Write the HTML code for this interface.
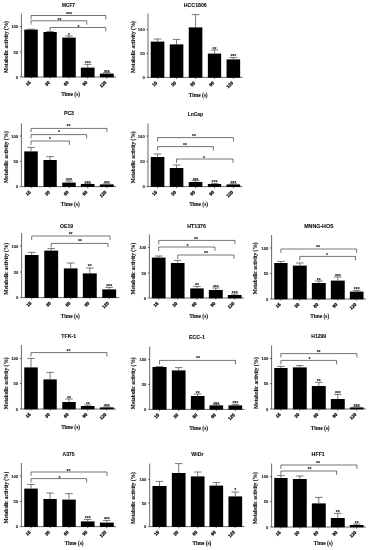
<!DOCTYPE html>
<html lang="en">
<head>
<meta charset="utf-8">
<title>Metabolic activity</title>
<style>
html,body{margin:0;padding:0;background:#fff;}
body{width:370px;height:550px;overflow:hidden;}
svg{display:block;filter:blur(0.35px);}
.ln{fill:none;stroke:#2a2a2a;stroke-width:0.7;}
.eb{fill:none;stroke:#333;stroke-width:0.65;}
.br{fill:none;stroke:#3a3a3a;stroke-width:0.7;}
.bar{fill:#000;}
text{fill:#111;}
.tk{font-family:"Liberation Sans",Arial,sans-serif;font-weight:bold;font-size:4.5px;stroke:#000;stroke-width:0.22;fill:#000;}
.yt{font-family:"Liberation Sans",Arial,sans-serif;font-weight:bold;font-size:4.1px;stroke:#111;stroke-width:0.06;}
.st{font-family:"Liberation Sans",Arial,sans-serif;font-weight:bold;font-size:5px;fill:#1a1a1a;stroke:#1a1a1a;stroke-width:0.08;}
.ti{font-family:"Liberation Sans",Arial,sans-serif;font-weight:bold;font-size:4.8px;stroke:#111;stroke-width:0.1;}
.lb{font-family:"Liberation Serif","Times New Roman",serif;font-weight:bold;font-size:5.4px;stroke:#111;stroke-width:0.1;}
</style>
</head>
<body>
<svg width="370" height="550" viewBox="0 0 370 550">
<rect width="370" height="550" fill="#fff"/>
<g>
<path class="ln" d="M21.4 13.6V77H116"/>
<path class="ln" d="M19.8 26.6H21.4M19.8 51.8H21.4M19.8 77H21.4M31 77V78.6M50.1 77V78.6M69 77V78.6M87.7 77V78.6M106.8 77V78.6"/>
<text class="yt" x="18.1" y="28.4" text-anchor="end">100</text>
<text class="yt" x="18.1" y="53.6" text-anchor="end">50</text>
<text class="yt" x="18.1" y="78.8" text-anchor="end">0</text>
<rect class="bar" x="24.25" y="29.6" width="13.5" height="47.7"/>
<text class="tk" transform="translate(31.1 82.8) rotate(-45)" text-anchor="end">15</text>
<rect class="bar" x="43.45" y="32" width="13.3" height="45.3"/>
<text class="tk" transform="translate(50.2 82.8) rotate(-45)" text-anchor="end">30</text>
<rect class="bar" x="62.25" y="37.6" width="13.5" height="39.7"/>
<text class="st" x="69" y="37.3" text-anchor="middle">*</text>
<text class="tk" transform="translate(69.1 82.8) rotate(-45)" text-anchor="end">60</text>
<rect class="bar" x="80.85" y="67.6" width="13.7" height="9.7"/>
<text class="st" x="87.7" y="65.3" text-anchor="middle">***</text>
<text class="tk" transform="translate(87.8 82.8) rotate(-45)" text-anchor="end">90</text>
<rect class="bar" x="99.85" y="73.6" width="13.9" height="3.7"/>
<text class="st" x="106.8" y="73.8" text-anchor="middle">***</text>
<text class="tk" transform="translate(106.9 82.8) rotate(-45)" text-anchor="end">120</text>
<path class="eb" d="M31 29.6V29.2M27.2 29.2H34.8M50.1 32V31.6M46.3 31.6H53.9M69 37.6V36M65.2 36H72.8M87.7 67.6V64.4M83.9 64.4H91.5M106.8 73.6V72.6M103 72.6H110.6"/>
<text class="st" x="69" y="16.3" text-anchor="middle">***</text>
<text class="st" x="59.4" y="21.8" text-anchor="middle">**</text>
<text class="st" x="78.4" y="28.6" text-anchor="middle">*</text>
<path class="br" d="M31 19.4V15.5H105.8V19.4M31 24.7V20.8H86.8V24.7M50.1 31.4V27.5H105.8V31.4"/>
<text class="ti" x="68.5" y="7.02" style="font-size:4.81px" text-anchor="middle">MCF7</text>
<text class="lb" x="70.6" y="96.1" text-anchor="middle">Time (s)</text>
<text class="lb" transform="translate(7.9 47) rotate(-90)" text-anchor="middle">Metabolic activity (%)</text>
</g>
<g>
<path class="ln" d="M148 13.6V77.4H242.4"/>
<path class="ln" d="M146.4 29.6H148M146.4 53.4H148M146.4 77.4H148M157.55 77.4V79M176.55 77.4V79M195.55 77.4V79M214.5 77.4V79M233.35 77.4V79"/>
<text class="yt" x="144.7" y="31.4" text-anchor="end">100</text>
<text class="yt" x="144.7" y="55.2" text-anchor="end">50</text>
<text class="yt" x="144.7" y="79.2" text-anchor="end">0</text>
<rect class="bar" x="150.75" y="41.6" width="13.6" height="36.1"/>
<text class="tk" transform="translate(157.65 83.2) rotate(-45)" text-anchor="end">15</text>
<rect class="bar" x="169.75" y="44.4" width="13.6" height="33.3"/>
<text class="tk" transform="translate(176.65 83.2) rotate(-45)" text-anchor="end">30</text>
<rect class="bar" x="188.75" y="27.4" width="13.6" height="50.3"/>
<text class="tk" transform="translate(195.65 83.2) rotate(-45)" text-anchor="end">60</text>
<rect class="bar" x="207.85" y="53.6" width="13.3" height="24.1"/>
<text class="st" x="214.5" y="51.3" text-anchor="middle">**</text>
<text class="tk" transform="translate(214.6 83.2) rotate(-45)" text-anchor="end">90</text>
<rect class="bar" x="226.55" y="59.4" width="13.6" height="18.3"/>
<text class="st" x="233.35" y="58.3" text-anchor="middle">***</text>
<text class="tk" transform="translate(233.45 83.2) rotate(-45)" text-anchor="end">120</text>
<path class="eb" d="M157.55 41.6V39M153.75 39H161.35M176.55 44.4V39.4M172.75 39.4H180.35M195.55 27.4V14.6M191.75 14.6H199.35M214.5 53.6V50M210.7 50H218.3M233.35 59.4V57.6M229.55 57.6H237.15"/>
<text class="ti" x="195.3" y="7.17" style="font-size:5.22px" text-anchor="middle">HCC1806</text>
<text class="lb" x="198.2" y="96.7" text-anchor="middle">Time (s)</text>
<text class="lb" transform="translate(134.7 47) rotate(-90)" text-anchor="middle">Metabolic activity (%)</text>
</g>
<g>
<path class="ln" d="M21.4 123.4V186.6H116"/>
<path class="ln" d="M19.8 136H21.4M19.8 161.4H21.4M19.8 186.6H21.4M31 186.6V188.2M50.1 186.6V188.2M69 186.6V188.2M87.7 186.6V188.2M106.8 186.6V188.2"/>
<text class="yt" x="18.1" y="137.8" text-anchor="end">100</text>
<text class="yt" x="18.1" y="163.2" text-anchor="end">50</text>
<text class="yt" x="18.1" y="188.4" text-anchor="end">0</text>
<rect class="bar" x="24.25" y="151.4" width="13.5" height="35.5"/>
<text class="tk" transform="translate(31.1 192.4) rotate(-45)" text-anchor="end">15</text>
<rect class="bar" x="43.45" y="160" width="13.3" height="26.9"/>
<text class="tk" transform="translate(50.2 192.4) rotate(-45)" text-anchor="end">30</text>
<rect class="bar" x="62.25" y="182.6" width="13.5" height="4.3"/>
<text class="st" x="69" y="181.9" text-anchor="middle">***</text>
<text class="tk" transform="translate(69.1 192.4) rotate(-45)" text-anchor="end">60</text>
<rect class="bar" x="80.85" y="184" width="13.7" height="2.9"/>
<text class="st" x="87.7" y="184.7" text-anchor="middle">***</text>
<text class="tk" transform="translate(87.8 192.4) rotate(-45)" text-anchor="end">90</text>
<rect class="bar" x="99.85" y="184.4" width="13.9" height="2.5"/>
<text class="st" x="106.8" y="184.9" text-anchor="middle">***</text>
<text class="tk" transform="translate(106.9 192.4) rotate(-45)" text-anchor="end">120</text>
<path class="eb" d="M31 151.4V147.4M27.2 147.4H34.8M50.1 160V156.6M46.3 156.6H53.9M69 182.6V181M65.2 181H72.8M87.7 184V183.4M83.9 183.4H91.5M106.8 184.4V183.8M103 183.8H110.6"/>
<text class="st" x="68.4" y="127.9" text-anchor="middle">**</text>
<text class="st" x="59" y="134.3" text-anchor="middle">*</text>
<text class="st" x="50" y="140.9" text-anchor="middle">*</text>
<path class="br" d="M31 132.3V128.4H107V132.3M31 138.5V134.6H86.6V138.5M31 144.9V141H69.4V144.9"/>
<text class="ti" x="69" y="115.44" style="font-size:5.14px" text-anchor="middle">PC3</text>
<text class="lb" x="70.3" y="205.7" text-anchor="middle">Time (s)</text>
<text class="lb" transform="translate(7.9 157.2) rotate(-90)" text-anchor="middle">Metabolic activity (%)</text>
</g>
<g>
<path class="ln" d="M148 123.4V186.6H242.4"/>
<path class="ln" d="M146.4 136H148M146.4 161.4H148M146.4 186.6H148M157.55 186.6V188.2M176.55 186.6V188.2M195.55 186.6V188.2M214.5 186.6V188.2M233.35 186.6V188.2"/>
<text class="yt" x="144.7" y="137.8" text-anchor="end">100</text>
<text class="yt" x="144.7" y="163.2" text-anchor="end">50</text>
<text class="yt" x="144.7" y="188.4" text-anchor="end">0</text>
<rect class="bar" x="150.75" y="157" width="13.6" height="29.9"/>
<text class="tk" transform="translate(157.65 192.4) rotate(-45)" text-anchor="end">15</text>
<rect class="bar" x="169.75" y="168" width="13.6" height="18.9"/>
<text class="tk" transform="translate(176.65 192.4) rotate(-45)" text-anchor="end">30</text>
<rect class="bar" x="188.75" y="182" width="13.6" height="4.9"/>
<text class="st" x="195.55" y="182.3" text-anchor="middle">***</text>
<text class="tk" transform="translate(195.65 192.4) rotate(-45)" text-anchor="end">60</text>
<rect class="bar" x="207.85" y="184" width="13.3" height="2.9"/>
<text class="st" x="214.5" y="184.3" text-anchor="middle">***</text>
<text class="tk" transform="translate(214.6 192.4) rotate(-45)" text-anchor="end">90</text>
<rect class="bar" x="226.55" y="184.4" width="13.6" height="2.5"/>
<text class="st" x="233.35" y="184.7" text-anchor="middle">***</text>
<text class="tk" transform="translate(233.45 192.4) rotate(-45)" text-anchor="end">120</text>
<path class="eb" d="M157.55 157V154M153.75 154H161.35M176.55 168V165M172.75 165H180.35M195.55 182V180.6M191.75 180.6H199.35M214.5 184V183.4M210.7 183.4H218.3M233.35 184.4V183.8M229.55 183.8H237.15"/>
<text class="st" x="194" y="138.3" text-anchor="middle">**</text>
<text class="st" x="185" y="146.9" text-anchor="middle">**</text>
<text class="st" x="204" y="159.7" text-anchor="middle">*</text>
<path class="br" d="M157.55 141.5V137.6H233.6V141.5M157.55 150.5V146.6H213.4V150.5M176.55 162.9V159H233V162.9"/>
<text class="ti" x="195.4" y="115.78" style="font-size:4.98px" text-anchor="middle">LnCap</text>
<text class="lb" x="198.6" y="206.1" text-anchor="middle">Time (s)</text>
<text class="lb" transform="translate(135 157.3) rotate(-90)" text-anchor="middle">Metabolic activity (%)</text>
</g>
<g>
<path class="ln" d="M21.6 233V297.6H119"/>
<path class="ln" d="M20 246H21.6M20 272H21.6M20 297.6H21.6M31.7 297.6V299.2M51.2 297.6V299.2M70.7 297.6V299.2M89.8 297.6V299.2M109.2 297.6V299.2"/>
<text class="yt" x="18.3" y="247.8" text-anchor="end">100</text>
<text class="yt" x="18.3" y="273.8" text-anchor="end">50</text>
<text class="yt" x="18.3" y="299.4" text-anchor="end">0</text>
<rect class="bar" x="24.85" y="255" width="13.7" height="42.9"/>
<text class="tk" transform="translate(31.8 303.4) rotate(-45)" text-anchor="end">15</text>
<rect class="bar" x="44.25" y="250.6" width="13.9" height="47.3"/>
<text class="tk" transform="translate(51.3 303.4) rotate(-45)" text-anchor="end">30</text>
<rect class="bar" x="63.85" y="268.4" width="13.7" height="29.5"/>
<text class="tk" transform="translate(70.8 303.4) rotate(-45)" text-anchor="end">60</text>
<rect class="bar" x="82.85" y="273.4" width="13.9" height="24.5"/>
<text class="st" x="89.8" y="268.3" text-anchor="middle">**</text>
<text class="tk" transform="translate(89.9 303.4) rotate(-45)" text-anchor="end">90</text>
<rect class="bar" x="102.25" y="289.4" width="13.9" height="8.5"/>
<text class="st" x="109.2" y="288.3" text-anchor="middle">***</text>
<text class="tk" transform="translate(109.3 303.4) rotate(-45)" text-anchor="end">120</text>
<path class="eb" d="M31.7 255V252.4M27.9 252.4H35.5M51.2 250.6V248.6M47.4 248.6H55M70.7 268.4V263M66.9 263H74.5M89.8 273.4V268M86 268H93.6M109.2 289.4V287.4M105.4 287.4H113"/>
<text class="st" x="70.6" y="235.9" text-anchor="middle">**</text>
<text class="st" x="80" y="243.3" text-anchor="middle">**</text>
<path class="br" d="M31.7 239.9V236H110V239.9M51.2 247.3V243.4H108V247.3"/>
<text class="ti" x="66.6" y="228.23" style="font-size:5.12px" text-anchor="middle">OE19</text>
<text class="lb" x="70.3" y="317.7" text-anchor="middle">Time (s)</text>
<text class="lb" transform="translate(7.9 268.8) rotate(-90)" text-anchor="middle">Metabolic activity (%)</text>
</g>
<g>
<path class="ln" d="M149.4 234.4V298H244"/>
<path class="ln" d="M147.8 247.6H149.4M147.8 273H149.4M147.8 298H149.4M158.7 298V299.6M177.7 298V299.6M197 298V299.6M215.8 298V299.6M234.7 298V299.6"/>
<text class="yt" x="146.1" y="249.4" text-anchor="end">100</text>
<text class="yt" x="146.1" y="274.8" text-anchor="end">50</text>
<text class="yt" x="146.1" y="299.8" text-anchor="end">0</text>
<rect class="bar" x="151.85" y="257.6" width="13.7" height="40.7"/>
<text class="tk" transform="translate(158.8 303.8) rotate(-45)" text-anchor="end">15</text>
<rect class="bar" x="170.85" y="263" width="13.7" height="35.3"/>
<text class="tk" transform="translate(177.8 303.8) rotate(-45)" text-anchor="end">30</text>
<rect class="bar" x="190.25" y="288.4" width="13.5" height="9.9"/>
<text class="st" x="197" y="287.3" text-anchor="middle">**</text>
<text class="tk" transform="translate(197.1 303.8) rotate(-45)" text-anchor="end">60</text>
<rect class="bar" x="208.85" y="290" width="13.9" height="8.3"/>
<text class="st" x="215.8" y="288.7" text-anchor="middle">***</text>
<text class="tk" transform="translate(215.9 303.8) rotate(-45)" text-anchor="end">90</text>
<rect class="bar" x="227.85" y="295" width="13.7" height="3.3"/>
<text class="st" x="234.7" y="295.3" text-anchor="middle">***</text>
<text class="tk" transform="translate(234.8 303.8) rotate(-45)" text-anchor="end">120</text>
<path class="eb" d="M158.7 257.6V256M154.9 256H162.5M177.7 263V260.4M173.9 260.4H181.5M197 288.4V286.4M193.2 286.4H200.8M215.8 290V288M212 288H219.6M234.7 295V294M230.9 294H238.5"/>
<text class="st" x="196" y="240.7" text-anchor="middle">**</text>
<text class="st" x="187.4" y="247.7" text-anchor="middle">*</text>
<text class="st" x="206" y="255.3" text-anchor="middle">**</text>
<path class="br" d="M158.7 244.3V240.4H235V244.3M158.7 250.9V247H215V250.9M177.7 258.9V255H234V258.9"/>
<text class="ti" x="196.6" y="227.8" style="font-size:5.31px" text-anchor="middle">HT1376</text>
<text class="lb" x="198.6" y="317.7" text-anchor="middle">Time (s)</text>
<text class="lb" transform="translate(135 268.7) rotate(-90)" text-anchor="middle">Metabolic activity (%)</text>
</g>
<g>
<path class="ln" d="M271.6 235V299H366"/>
<path class="ln" d="M270 248H271.6M270 273.4H271.6M270 299H271.6M280.9 299V300.6M299.8 299V300.6M318.8 299V300.6M337.8 299V300.6M356.7 299V300.6"/>
<text class="yt" x="268.3" y="249.8" text-anchor="end">100</text>
<text class="yt" x="268.3" y="275.2" text-anchor="end">50</text>
<text class="yt" x="268.3" y="300.8" text-anchor="end">0</text>
<rect class="bar" x="274.25" y="263" width="13.3" height="36.3"/>
<text class="tk" transform="translate(281 304.8) rotate(-45)" text-anchor="end">15</text>
<rect class="bar" x="292.85" y="265.6" width="13.9" height="33.7"/>
<text class="tk" transform="translate(299.9 304.8) rotate(-45)" text-anchor="end">30</text>
<rect class="bar" x="311.85" y="283" width="13.9" height="16.3"/>
<text class="st" x="318.8" y="281.9" text-anchor="middle">**</text>
<text class="tk" transform="translate(318.9 304.8) rotate(-45)" text-anchor="end">60</text>
<rect class="bar" x="330.85" y="280.6" width="13.9" height="18.7"/>
<text class="st" x="337.8" y="277.9" text-anchor="middle">***</text>
<text class="tk" transform="translate(337.9 304.8) rotate(-45)" text-anchor="end">90</text>
<rect class="bar" x="349.85" y="291.6" width="13.7" height="7.7"/>
<text class="st" x="356.7" y="291.3" text-anchor="middle">***</text>
<text class="tk" transform="translate(356.8 304.8) rotate(-45)" text-anchor="end">120</text>
<path class="eb" d="M280.9 263V261.4M277.1 261.4H284.7M299.8 265.6V263M296 263H303.6M318.8 283V281M315 281H322.6M337.8 280.6V277M334 277H341.6M356.7 291.6V290.4M352.9 290.4H360.5"/>
<text class="st" x="318" y="249.3" text-anchor="middle">**</text>
<text class="st" x="327" y="257.3" text-anchor="middle">*</text>
<path class="br" d="M280.9 252.9V249H356.6V252.9M299.8 260.3V256.4H355.4V260.3"/>
<text class="ti" x="318.9" y="227.9" style="font-size:5.31px" text-anchor="middle">MNNG-HOS</text>
<text class="lb" x="319.8" y="317.7" text-anchor="middle">Time (s)</text>
<text class="lb" transform="translate(257.3 268.3) rotate(-90)" text-anchor="middle">Metabolic activity (%)</text>
</g>
<g>
<path class="ln" d="M21.4 345V409H116"/>
<path class="ln" d="M19.8 358.4H21.4M19.8 383.6H21.4M19.8 409H21.4M31 409V410.6M50.1 409V410.6M69 409V410.6M87.7 409V410.6M106.8 409V410.6"/>
<text class="yt" x="18.1" y="360.2" text-anchor="end">100</text>
<text class="yt" x="18.1" y="385.4" text-anchor="end">50</text>
<text class="yt" x="18.1" y="410.8" text-anchor="end">0</text>
<rect class="bar" x="24.25" y="367.4" width="13.5" height="41.9"/>
<text class="tk" transform="translate(31.1 414.8) rotate(-45)" text-anchor="end">15</text>
<rect class="bar" x="43.45" y="379.4" width="13.3" height="29.9"/>
<text class="tk" transform="translate(50.2 414.8) rotate(-45)" text-anchor="end">30</text>
<rect class="bar" x="62.25" y="402" width="13.5" height="7.3"/>
<text class="st" x="69" y="399.7" text-anchor="middle">**</text>
<text class="tk" transform="translate(69.1 414.8) rotate(-45)" text-anchor="end">60</text>
<rect class="bar" x="80.85" y="406" width="13.7" height="3.3"/>
<text class="st" x="87.7" y="406.3" text-anchor="middle">**</text>
<text class="tk" transform="translate(87.8 414.8) rotate(-45)" text-anchor="end">90</text>
<rect class="bar" x="99.85" y="407.4" width="13.9" height="1.9"/>
<text class="st" x="106.8" y="407.7" text-anchor="middle">***</text>
<text class="tk" transform="translate(106.9 414.8) rotate(-45)" text-anchor="end">120</text>
<path class="eb" d="M31 367.4V358.4M27.2 358.4H34.8M50.1 379.4V372.4M46.3 372.4H53.9M69 402V399M65.2 399H72.8M87.7 406V405M83.9 405H91.5M106.8 407.4V406.8M103 406.8H110.6"/>
<text class="st" x="68.4" y="353.3" text-anchor="middle">**</text>
<path class="br" d="M31 356.5V352.6H107V356.5"/>
<text class="ti" x="68.8" y="337.78" style="font-size:5.26px" text-anchor="middle">TFK-1</text>
<text class="lb" x="70.6" y="429.4" text-anchor="middle">Time (s)</text>
<text class="lb" transform="translate(7.9 383.3) rotate(-90)" text-anchor="middle">Metabolic activity (%)</text>
</g>
<g>
<path class="ln" d="M149.7 346.6V409.4H244.6"/>
<path class="ln" d="M148.1 359.4H149.7M148.1 384.4H149.7M148.1 409.4H149.7M159.5 409.4V411M178.7 409.4V411M197.7 409.4V411M216.3 409.4V411M235.3 409.4V411"/>
<text class="yt" x="146.4" y="361.2" text-anchor="end">100</text>
<text class="yt" x="146.4" y="386.2" text-anchor="end">50</text>
<text class="yt" x="146.4" y="411.2" text-anchor="end">0</text>
<rect class="bar" x="152.45" y="367" width="14.1" height="42.7"/>
<text class="tk" transform="translate(159.6 415.2) rotate(-45)" text-anchor="end">15</text>
<rect class="bar" x="171.85" y="370.4" width="13.7" height="39.3"/>
<text class="tk" transform="translate(178.8 415.2) rotate(-45)" text-anchor="end">30</text>
<rect class="bar" x="190.85" y="396" width="13.7" height="13.7"/>
<text class="st" x="197.7" y="394.9" text-anchor="middle">**</text>
<text class="tk" transform="translate(197.8 415.2) rotate(-45)" text-anchor="end">60</text>
<rect class="bar" x="209.45" y="405.4" width="13.7" height="4.3"/>
<text class="st" x="216.3" y="405.9" text-anchor="middle">***</text>
<text class="tk" transform="translate(216.4 415.2) rotate(-45)" text-anchor="end">90</text>
<rect class="bar" x="228.45" y="405.4" width="13.7" height="4.3"/>
<text class="st" x="235.3" y="405.3" text-anchor="middle">***</text>
<text class="tk" transform="translate(235.4 415.2) rotate(-45)" text-anchor="end">120</text>
<path class="eb" d="M159.5 367V366.6M155.7 366.6H163.3M178.7 370.4V367.6M174.9 367.6H182.5M197.7 396V394M193.9 394H201.5M216.3 405.4V404.4M212.5 404.4H220.1M235.3 405.4V404.4M231.5 404.4H239.1"/>
<text class="st" x="198" y="360.3" text-anchor="middle">**</text>
<path class="br" d="M159.5 364.3V360.4H235.4V364.3"/>
<text class="ti" x="196.9" y="338.8" style="font-size:5.3px" text-anchor="middle">ECC-1</text>
<text class="lb" x="198.6" y="429.7" text-anchor="middle">Time (s)</text>
<text class="lb" transform="translate(135 383.3) rotate(-90)" text-anchor="middle">Metabolic activity (%)</text>
</g>
<g>
<path class="ln" d="M271.6 345.4V409H366"/>
<path class="ln" d="M270 358.4H271.6M270 383.6H271.6M270 409H271.6M280.9 409V410.6M299.8 409V410.6M318.8 409V410.6M337.8 409V410.6M356.7 409V410.6"/>
<text class="yt" x="268.3" y="360.2" text-anchor="end">100</text>
<text class="yt" x="268.3" y="385.4" text-anchor="end">50</text>
<text class="yt" x="268.3" y="410.8" text-anchor="end">0</text>
<rect class="bar" x="274.25" y="368" width="13.3" height="41.3"/>
<text class="tk" transform="translate(281 414.8) rotate(-45)" text-anchor="end">15</text>
<rect class="bar" x="292.85" y="367.4" width="13.9" height="41.9"/>
<text class="tk" transform="translate(299.9 414.8) rotate(-45)" text-anchor="end">30</text>
<rect class="bar" x="311.85" y="386" width="13.9" height="23.3"/>
<text class="st" x="318.8" y="382.7" text-anchor="middle">**</text>
<text class="tk" transform="translate(318.9 414.8) rotate(-45)" text-anchor="end">60</text>
<rect class="bar" x="330.85" y="399" width="13.9" height="10.3"/>
<text class="st" x="337.8" y="395.3" text-anchor="middle">***</text>
<text class="tk" transform="translate(337.9 414.8) rotate(-45)" text-anchor="end">90</text>
<rect class="bar" x="349.85" y="407.4" width="13.7" height="1.9"/>
<text class="st" x="356.7" y="407.7" text-anchor="middle">***</text>
<text class="tk" transform="translate(356.8 414.8) rotate(-45)" text-anchor="end">120</text>
<path class="eb" d="M280.9 368V366.4M277.1 366.4H284.7M299.8 367.4V365.6M296 365.6H303.6M318.8 386V382.4M315 382.4H322.6M337.8 399V394.4M334 394.4H341.6M356.7 407.4V406.4M352.9 406.4H360.5"/>
<text class="st" x="318.6" y="353.9" text-anchor="middle">**</text>
<text class="st" x="309.4" y="360.9" text-anchor="middle">*</text>
<path class="br" d="M280.9 357.5V353.6H357V357.5M280.9 364.3V360.4H336.6V364.3"/>
<text class="ti" x="318.7" y="337.71" style="font-size:5.06px" text-anchor="middle">H1299</text>
<text class="lb" x="320.2" y="429.7" text-anchor="middle">Time (s)</text>
<text class="lb" transform="translate(257.7 383.1) rotate(-90)" text-anchor="middle">Metabolic activity (%)</text>
</g>
<g>
<path class="ln" d="M21.4 463V526.6H116"/>
<path class="ln" d="M19.8 476H21.4M19.8 501.4H21.4M19.8 526.6H21.4M31 526.6V528.2M50.1 526.6V528.2M69 526.6V528.2M87.7 526.6V528.2M106.8 526.6V528.2"/>
<text class="yt" x="18.1" y="477.8" text-anchor="end">100</text>
<text class="yt" x="18.1" y="503.2" text-anchor="end">50</text>
<text class="yt" x="18.1" y="528.4" text-anchor="end">0</text>
<rect class="bar" x="24.25" y="488.6" width="13.5" height="38.3"/>
<text class="tk" transform="translate(31.1 532.4) rotate(-45)" text-anchor="end">15</text>
<rect class="bar" x="43.45" y="499" width="13.3" height="27.9"/>
<text class="tk" transform="translate(50.2 532.4) rotate(-45)" text-anchor="end">30</text>
<rect class="bar" x="62.25" y="499.6" width="13.5" height="27.3"/>
<text class="tk" transform="translate(69.1 532.4) rotate(-45)" text-anchor="end">60</text>
<rect class="bar" x="80.85" y="521.4" width="13.7" height="5.5"/>
<text class="st" x="87.7" y="520.3" text-anchor="middle">***</text>
<text class="tk" transform="translate(87.8 532.4) rotate(-45)" text-anchor="end">90</text>
<rect class="bar" x="99.85" y="522.6" width="13.9" height="4.3"/>
<text class="st" x="106.8" y="520.9" text-anchor="middle">***</text>
<text class="tk" transform="translate(106.9 532.4) rotate(-45)" text-anchor="end">120</text>
<path class="eb" d="M31 488.6V484.4M27.2 484.4H34.8M50.1 499V493M46.3 493H53.9M69 499.6V493.6M65.2 493.6H72.8M87.7 521.4V519.4M83.9 519.4H91.5M106.8 522.6V520.4M103 520.4H110.6"/>
<text class="st" x="68.4" y="472.7" text-anchor="middle">**</text>
<text class="st" x="59.6" y="479.9" text-anchor="middle">*</text>
<path class="br" d="M31 475.9V472H107V475.9M31 482.5V478.6H86.6V482.5"/>
<text class="ti" x="68.6" y="455.53" style="font-size:5.1px" text-anchor="middle">A375</text>
<text class="lb" x="74.1" y="545.4" text-anchor="middle">Time (s)</text>
<text class="lb" transform="translate(7.9 497.7) rotate(-90)" text-anchor="middle">Metabolic activity (%)</text>
</g>
<g>
<path class="ln" d="M149.7 463.6V526.6H244.6"/>
<path class="ln" d="M148.1 479.4H149.7M148.1 503H149.7M148.1 526.6H149.7M159.5 526.6V528.2M178.7 526.6V528.2M197.7 526.6V528.2M216.3 526.6V528.2M235.3 526.6V528.2"/>
<text class="yt" x="146.4" y="481.2" text-anchor="end">100</text>
<text class="yt" x="146.4" y="504.8" text-anchor="end">50</text>
<text class="yt" x="146.4" y="528.4" text-anchor="end">0</text>
<rect class="bar" x="152.45" y="486" width="14.1" height="40.9"/>
<text class="tk" transform="translate(159.6 532.4) rotate(-45)" text-anchor="end">15</text>
<rect class="bar" x="171.85" y="473" width="13.7" height="53.9"/>
<text class="tk" transform="translate(178.8 532.4) rotate(-45)" text-anchor="end">30</text>
<rect class="bar" x="190.85" y="476.4" width="13.7" height="50.5"/>
<text class="tk" transform="translate(197.8 532.4) rotate(-45)" text-anchor="end">60</text>
<rect class="bar" x="209.45" y="485.6" width="13.7" height="41.3"/>
<text class="tk" transform="translate(216.4 532.4) rotate(-45)" text-anchor="end">90</text>
<rect class="bar" x="228.45" y="496.4" width="13.7" height="30.5"/>
<text class="st" x="235.3" y="491.9" text-anchor="middle">*</text>
<text class="tk" transform="translate(235.4 532.4) rotate(-45)" text-anchor="end">120</text>
<path class="eb" d="M159.5 486V481.4M155.7 481.4H163.3M178.7 473V463.6M174.9 463.6H182.5M197.7 476.4V472M193.9 472H201.5M216.3 485.6V482.6M212.5 482.6H220.1M235.3 496.4V492M231.5 492H239.1"/>
<text class="ti" x="197.4" y="455.58" style="font-size:5.25px" text-anchor="middle">WiDr</text>
<text class="lb" x="201.9" y="545.4" text-anchor="middle">Time (s)</text>
<text class="lb" transform="translate(135 498.2) rotate(-90)" text-anchor="middle">Metabolic activity (%)</text>
</g>
<g>
<path class="ln" d="M271.6 463.6V527H366"/>
<path class="ln" d="M270 476.6H271.6M270 501.6H271.6M270 527H271.6M280.9 527V528.6M299.8 527V528.6M318.8 527V528.6M337.8 527V528.6M356.7 527V528.6"/>
<text class="yt" x="268.3" y="478.4" text-anchor="end">100</text>
<text class="yt" x="268.3" y="503.4" text-anchor="end">50</text>
<text class="yt" x="268.3" y="528.8" text-anchor="end">0</text>
<rect class="bar" x="274.25" y="478" width="13.3" height="49.3"/>
<text class="tk" transform="translate(281 532.8) rotate(-45)" text-anchor="end">15</text>
<rect class="bar" x="292.85" y="479" width="13.9" height="48.3"/>
<text class="tk" transform="translate(299.9 532.8) rotate(-45)" text-anchor="end">30</text>
<rect class="bar" x="311.85" y="503.4" width="13.9" height="23.9"/>
<text class="tk" transform="translate(318.9 532.8) rotate(-45)" text-anchor="end">60</text>
<rect class="bar" x="330.85" y="518" width="13.9" height="9.3"/>
<text class="st" x="337.8" y="514.3" text-anchor="middle">**</text>
<text class="tk" transform="translate(337.9 532.8) rotate(-45)" text-anchor="end">90</text>
<rect class="bar" x="349.85" y="525" width="13.7" height="2.3"/>
<text class="st" x="356.7" y="524.9" text-anchor="middle">**</text>
<text class="tk" transform="translate(356.8 532.8) rotate(-45)" text-anchor="end">120</text>
<path class="eb" d="M280.9 478V475.6M277.1 475.6H284.7M299.8 479V476M296 476H303.6M318.8 503.4V497.4M315 497.4H322.6M337.8 518V513.4M334 513.4H341.6M356.7 525V524M352.9 524H360.5"/>
<text class="st" x="318" y="465.3" text-anchor="middle">**</text>
<text class="st" x="309.4" y="471.3" text-anchor="middle">**</text>
<path class="br" d="M280.9 468.9V465H357V468.9M280.9 474.9V471H336.6V474.9"/>
<text class="ti" x="318.2" y="455.99" style="font-size:5.28px" text-anchor="middle">HFF1</text>
<text class="lb" x="323.3" y="545.2" text-anchor="middle">Time (s)</text>
<text class="lb" transform="translate(257.3 498.2) rotate(-90)" text-anchor="middle">Metabolic activity (%)</text>
</g>
</svg>
</body>
</html>
